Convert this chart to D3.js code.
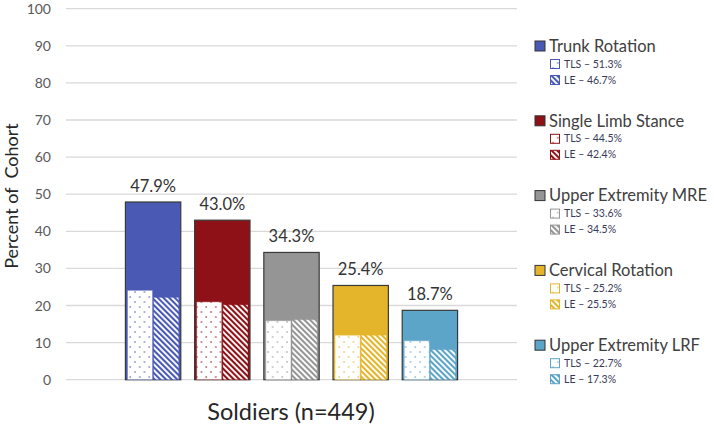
<!DOCTYPE html>
<html>
<head>
<meta charset="utf-8">
<script src="https://cdn.jsdelivr.net/npm/d3@7/dist/d3.min.js"></script>
<style>
  html, body { margin: 0; padding: 0; background: #fff; }
  svg { display: block; }
  text { font-family: Lato, "Open Sans", sans-serif; }
</style>
</head>
<body>
<svg id="chart" width="714" height="427"></svg>
<script>
// ---- data ----
const categories = ["Trunk Rotation", "Single Limb Stance", "Upper Extremity MRE", "Cervical Rotation", "Upper Extremity LRF"];
const totalValues = [47.9, 43.0, 34.3, 25.4, 18.7];
const tlsValues = [24.1, 21.0, 15.9, 12.0, 10.5];
const leValues = [22.2, 20.2, 16.2, 12.0, 8.1];
const tlsLegend = ["51.3%", "44.5%", "33.6%", "25.2%", "22.7%"];
const leLegend = ["46.7%", "42.4%", "34.5%", "25.5%", "17.3%"];
const yTicks = [0, 10, 20, 30, 40, 50, 60, 70, 80, 90, 100];
const colors = ["#4a5ab4", "#8d1116", "#959595", "#e4b52a", "#5ca4c8"];

const svg = d3.select("#chart");
const defs = svg.append("defs");

const y = d3.scaleLinear().domain([0, 100]).range([379.7, 8.7]);
const x = d3.scaleBand().domain(categories).range([118.5, 464.5]).paddingInner(0.2).paddingOuter(0.1);

// patterns
colors.forEach((c, i) => {
  const dp = defs.append("pattern").attr("id", "dots" + i)
    .attr("patternUnits", "userSpaceOnUse").attr("width", 9.5).attr("height", 10);
  dp.append("rect").attr("width", 9.5).attr("height", 10).attr("fill", "#fff");
  dp.append("circle").attr("cx", 2).attr("cy", 2).attr("r", 0.8).attr("fill", c);
  dp.append("circle").attr("cx", 6.75).attr("cy", 7).attr("r", 0.8).attr("fill", c);

  const sp = defs.append("pattern").attr("id", "stripes" + i)
    .attr("patternUnits", "userSpaceOnUse").attr("width", 4).attr("height", 4)
    .attr("patternTransform", "rotate(-45)");
  sp.append("rect").attr("width", 4).attr("height", 4).attr("fill", "#fff");
  sp.append("rect").attr("width", 2.1).attr("height", 4).attr("fill", c);
});

// gridlines
svg.append("g").selectAll("line").data(yTicks).join("line")
  .attr("x1", 66).attr("x2", 517)
  .attr("y1", d => y(d)).attr("y2", d => y(d))
  .attr("stroke", "#d9d9d9").attr("stroke-width", 1.3);

// y tick labels
svg.append("g").selectAll("text").data(yTicks).join("text")
  .attr("x", 51).attr("y", d => y(d)).attr("dy", "0.36em")
  .attr("text-anchor", "end").attr("font-size", 14).attr("fill", "#595959")
  .text(d => d);

// outer bars
const bars = svg.append("g");
bars.selectAll("rect.outer").data(categories).join("rect").attr("class", "outer")
  .attr("x", d => x(d)).attr("width", x.bandwidth())
  .attr("y", (d, i) => y(totalValues[i])).attr("height", (d, i) => y(0) - y(totalValues[i]))
  .attr("fill", (d, i) => colors[i]).attr("stroke", "#3a3a3a").attr("stroke-width", 1.2);

const innerW = (x.bandwidth() - 5) / 2;
bars.selectAll("rect.tls").data(categories).join("rect").attr("class", "tls")
  .attr("x", d => x(d) + 2).attr("width", innerW)
  .attr("y", (d, i) => y(tlsValues[i])).attr("height", (d, i) => y(0) - y(tlsValues[i]))
  .attr("fill", (d, i) => `url(#dots${i})`)
  .attr("stroke", (d, i) => colors[i]).attr("stroke-opacity", 0.45).attr("stroke-width", 1);
bars.selectAll("rect.le").data(categories).join("rect").attr("class", "le")
  .attr("x", d => x(d) + 3 + innerW).attr("width", innerW)
  .attr("y", (d, i) => y(leValues[i])).attr("height", (d, i) => y(0) - y(leValues[i]))
  .attr("fill", (d, i) => `url(#stripes${i})`)
  .attr("stroke", (d, i) => colors[i]).attr("stroke-opacity", 0.45).attr("stroke-width", 1);

// value labels
bars.selectAll("text.val").data(categories).join("text").attr("class", "val")
  .attr("x", d => x(d) + x.bandwidth() / 2)
  .attr("y", (d, i) => y(totalValues[i]) - 10)
  .attr("text-anchor", "middle").attr("font-size", 16.5).attr("fill", "#333")
  .text((d, i) => totalValues[i].toFixed(1) + "%");

// axis titles
svg.append("text").attr("x", 291).attr("y", 420).attr("text-anchor", "middle")
  .attr("font-size", 23.5).attr("fill", "#262626").text("Soldiers (n=449)");
svg.append("text").attr("transform", "translate(18,196) rotate(-90)")
  .attr("text-anchor", "middle").attr("font-size", 18).attr("fill", "#262626")
  .style("white-space", "pre").text("Percent of  Cohort");

// legend
const legend = svg.append("g");
categories.forEach((c, i) => {
  const cy = 46 + i * 74.8;
  const g = legend.append("g").attr("transform", `translate(0,${cy})`);
  g.append("rect").attr("x", 535).attr("y", -5).attr("width", 10).attr("height", 10)
    .attr("fill", colors[i]).attr("stroke", "#333").attr("stroke-width", 1);
  g.append("text").attr("x", 549).attr("y", 0).attr("dy", "0.35em")
    .attr("font-size", 16.5).attr("fill", "#404040").text(c);
  const subs = [["TLS", tlsLegend[i], `url(#dots${i})`, 18], ["LE", leLegend[i], `url(#stripes${i})`, 34]];
  subs.forEach(s => {
    g.append("rect").attr("x", 550.5).attr("y", s[3] - 4.5).attr("width", 9).attr("height", 9)
      .attr("fill", s[2]).attr("stroke", colors[i]).attr("stroke-width", 1);
    g.append("text").attr("x", 564).attr("y", s[3]).attr("dy", "0.35em")
      .attr("font-size", 10.5).attr("fill", "#383b58").text(`${s[0]} – ${s[1]}`);
  });
});
</script>
</body>
</html>
